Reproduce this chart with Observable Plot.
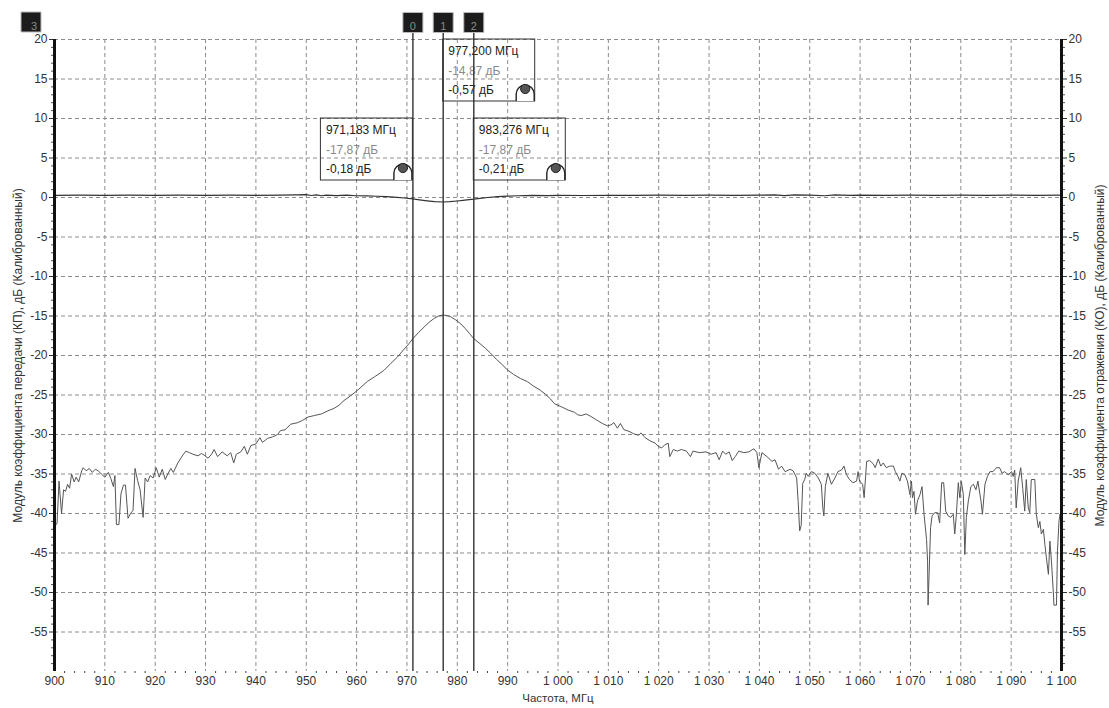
<!DOCTYPE html>
<html><head><meta charset="utf-8">
<script src="https://cdn.jsdelivr.net/npm/d3@7"></script>
<script src="https://cdn.jsdelivr.net/npm/@observablehq/plot@0.6"></script>
<style>
html,body{margin:0;padding:0;background:#fff;}
#chart svg{display:block;}
</style></head><body><div id="chart"></div>
<script>
// ---------- DATA ----------
const xDomain = [900, 1100];
const yDomain = [-60, 20];
const xTicks = [900, 910, 920, 930, 940, 950, 960, 970, 980, 990, 1000, 1010, 1020, 1030, 1040, 1050, 1060, 1070, 1080, 1090, 1100];
const yTicks = [-55, -50, -45, -40, -35, -30, -25, -20, -15, -10, -5, 0, 5, 10, 15, 20];
const xLabel = "Частота, МГц";
const yLabelLeft = "Модуль коэффициента передачи (КП), дБ (Калиброванный)";
const yLabelRight = "Модуль коэффициента отражения (КО), дБ (Калиброванный)";

// lower trace (transmission), [frequency MHz, dB]
const lowerTrace = [
[900.0,-41.5],[900.5,-41.3],[900.9,-35.9],[901.4,-40.0],[901.8,-37.0],[902.2,-37.2],[902.6,-36.3],[903.0,-36.8],[903.4,-35.0],[903.9,-36.0],
[904.3,-35.4],[904.8,-36.0],[905.4,-34.6],[905.7,-34.2],[906.3,-34.6],[906.9,-34.3],[907.5,-34.8],[908.1,-34.4],[908.7,-34.6],[909.3,-35.0],
[910.0,-35.4],[910.7,-34.8],[911.2,-35.6],[911.7,-36.6],[912.0,-35.2],[912.3,-41.4],[912.8,-41.4],[913.2,-37.5],[913.7,-36.4],[914.1,-36.4],
[914.6,-40.6],[915.1,-40.0],[915.6,-39.6],[916.0,-34.3],[916.5,-35.8],[917.0,-37.0],[917.6,-40.5],[918.0,-35.5],[918.5,-36.0],[919.0,-35.2],
[919.6,-35.5],[920.2,-34.2],[920.8,-35.4],[921.4,-34.4],[922.0,-35.7],[922.5,-35.0],[923.1,-34.3],[923.6,-34.8],[924.5,-33.6],[925.5,-32.6],
[926.1,-32.1],[926.8,-32.3],[927.5,-32.5],[928.5,-32.7],[929.2,-32.4],[929.7,-32.6],[930.5,-33.0],[931.2,-32.5],[931.7,-31.9],[932.4,-32.8],
[933.3,-32.2],[934.3,-32.7],[935.0,-32.3],[935.6,-33.6],[936.1,-32.5],[937.0,-32.2],[937.7,-31.5],[938.3,-32.5],[939.0,-31.4],[940.0,-31.2],
[940.8,-30.4],[941.3,-31.0],[942.3,-30.5],[943.3,-30.3],[944.3,-30.0],[944.9,-29.5],[945.8,-29.4],[946.9,-28.7],[948.3,-28.5],[949.3,-28.2],
[950.3,-27.8],[951.6,-27.6],[953.0,-27.4],[954.3,-27.0],[955.5,-26.7],[956.5,-26.3],[957.5,-25.7],[958.8,-25.1],[960.2,-24.4],[962.1,-23.3],
[963.8,-22.6],[965.4,-21.9],[966.8,-21.0],[968.1,-20.2],[969.3,-19.3],[970.4,-18.5],[971.183,-17.87],[972.3,-17.1],[973.4,-16.4],[974.4,-15.8],
[975.4,-15.3],[976.3,-15.0],[977.2,-14.87],[978.0,-14.95],[978.7,-15.1],[979.7,-15.5],[980.7,-16.0],[981.6,-16.6],[982.4,-17.2],[983.276,-17.87],
[984.5,-18.5],[985.6,-19.1],[986.6,-19.7],[987.8,-20.5],[989.0,-21.2],[989.9,-21.8],[991.2,-22.4],[992.5,-22.9],[993.9,-23.3],[995.2,-23.9],
[996.5,-24.4],[997.5,-24.9],[998.5,-25.5],[999.3,-26.1],[1000.7,-26.5],[1002.0,-26.9],[1003.3,-27.2],[1003.9,-27.5],[1004.6,-27.6],[1005.6,-27.4],
[1006.5,-27.7],[1007.5,-28.1],[1008.8,-28.6],[1009.8,-28.9],[1010.5,-28.8],[1011.1,-28.5],[1011.8,-29.2],[1012.4,-28.6],[1013.1,-29.4],[1014.1,-29.6],
[1015.0,-29.9],[1016.0,-30.1],[1016.5,-29.8],[1017.3,-30.4],[1018.3,-30.8],[1019.3,-31.1],[1019.9,-31.5],[1020.6,-31.7],[1021.2,-31.3],[1021.9,-31.1],
[1022.2,-32.8],[1022.9,-31.9],[1023.7,-32.1],[1024.5,-31.9],[1025.5,-32.1],[1026.3,-32.8],[1026.8,-32.1],[1028.1,-32.3],[1029.4,-32.2],[1030.4,-32.5],
[1031.4,-32.3],[1032.0,-33.2],[1032.7,-32.1],[1033.3,-32.5],[1034.0,-32.2],[1034.6,-33.3],[1035.2,-32.8],[1035.9,-32.1],[1036.9,-32.3],[1037.9,-32.2],
[1038.9,-31.8],[1039.5,-32.3],[1039.9,-34.2],[1040.5,-32.3],[1041.5,-32.8],[1042.5,-33.4],[1043.1,-33.2],[1043.8,-34.4],[1044.4,-34.0],[1045.1,-34.7],
[1046.1,-34.4],[1046.7,-34.6],[1047.4,-35.5],[1047.7,-38.5],[1048.0,-42.2],[1048.3,-41.5],[1048.6,-36.2],[1049.0,-35.7],[1049.3,-34.9],[1049.7,-35.3],
[1050.3,-34.7],[1051.0,-34.9],[1051.7,-35.5],[1052.3,-36.3],[1052.6,-39.3],[1052.8,-40.3],[1053.1,-36.6],[1053.6,-34.9],[1054.3,-36.3],[1055.0,-35.5],
[1055.6,-34.7],[1056.3,-34.5],[1056.8,-34.0],[1057.3,-35.1],[1057.9,-35.7],[1058.6,-36.1],[1059.3,-35.9],[1059.6,-34.7],[1059.9,-35.9],[1060.5,-36.3],
[1060.8,-38.0],[1061.3,-33.4],[1061.9,-33.3],[1062.6,-33.7],[1063.0,-34.2],[1063.6,-33.1],[1064.1,-34.0],[1064.6,-33.6],[1065.2,-34.2],[1065.9,-34.0],
[1066.6,-34.0],[1067.0,-34.7],[1067.5,-35.3],[1067.9,-35.9],[1068.3,-34.9],[1068.9,-35.1],[1069.4,-35.9],[1069.9,-37.6],[1070.2,-35.9],[1070.4,-38.0],
[1070.7,-37.2],[1071.0,-40.1],[1071.4,-38.4],[1071.9,-37.6],[1072.3,-36.6],[1072.7,-40.1],[1073.2,-43.3],[1073.4,-46.0],[1073.5,-51.6],[1073.7,-47.7],
[1074.0,-41.8],[1074.3,-40.3],[1074.8,-39.9],[1075.4,-39.9],[1075.8,-41.2],[1076.2,-36.1],[1076.6,-36.1],[1077.0,-39.7],[1077.5,-40.3],[1078.0,-40.5],
[1078.5,-40.1],[1078.8,-42.6],[1079.1,-40.3],[1079.5,-36.1],[1079.8,-38.0],[1080.1,-35.9],[1080.5,-37.6],[1080.8,-45.2],[1081.1,-40.5],[1081.5,-38.4],
[1082.0,-36.6],[1082.5,-36.3],[1083.0,-37.0],[1083.4,-35.9],[1084.0,-38.4],[1084.3,-40.1],[1084.8,-36.3],[1085.3,-35.3],[1085.8,-34.7],[1086.4,-34.7],
[1087.1,-34.2],[1087.7,-34.2],[1088.2,-34.9],[1088.7,-34.7],[1089.4,-35.1],[1090.1,-34.7],[1090.4,-35.3],[1090.7,-34.5],[1091.0,-39.3],[1091.4,-35.9],
[1091.9,-34.2],[1092.3,-36.8],[1092.7,-39.7],[1093.0,-35.7],[1093.4,-39.3],[1093.7,-39.9],[1094.0,-35.7],[1094.7,-35.7],[1095.0,-40.1],[1095.4,-41.8],
[1095.7,-41.0],[1096.0,-42.6],[1096.4,-42.0],[1096.7,-43.9],[1097.0,-45.6],[1097.4,-47.7],[1097.7,-43.5],[1098.0,-46.0],[1098.4,-50.2],[1098.5,-51.6],
[1099.0,-51.6],[1099.2,-44.7],[1099.5,-41.0],[1099.7,-40.1],[1100.0,-40.5]
];

// upper trace (reflection), [frequency MHz, dB]
const upperTrace = [
[900,0.28],[905,0.3],[910,0.27],[915,0.3],[920,0.28],[925,0.3],[930,0.27],[935,0.3],[940,0.28],[945,0.3],
[948,0.32],[950,0.36],[951,0.25],[952,0.34],[953,0.22],[954,0.3],[956,0.24],[958,0.3],[960,0.22],[962,0.2],
[964,0.16],[966,0.1],[968,0.02],[969.5,-0.06],[971.183,-0.18],[972.5,-0.3],[974,-0.42],[975.5,-0.52],[977.2,-0.57],[978.5,-0.52],
[980,-0.44],[981.5,-0.34],[983.276,-0.21],[984.5,-0.1],[986,0.0],[988,0.1],[990,0.18],[992,0.22],[995,0.26],[998,0.24],
[1000,0.28],[1005,0.25],[1010,0.28],[1015,0.26],[1020,0.3],[1025,0.27],[1030,0.3],[1035,0.28],[1040,0.3],[1043,0.34],
[1045,0.24],[1047,0.33],[1050,0.3],[1053,0.22],[1055,0.34],[1058,0.27],[1060,0.3],[1065,0.28],[1070,0.3],[1075,0.27],
[1080,0.3],[1085,0.28],[1090,0.3],[1095,0.28],[1100,0.3]
];

// markers
const markerLabels = ["0", "1", "2"];
const markerFreqs = [971.183, 977.2, 983.276];
const markerTrans = [-17.87, -14.87, -17.87];
const markerRefl = [-0.18, -0.57, -0.21];
const markerBoxTop = [10, 20, 10];          // dB level of the top edge of each readout box
const markerBoxSide = ["left", "right", "right"];
const extraMarkerLabels = ["3"];

// ---------- BUILD ----------
const loc = d3.formatLocale({decimal: ",", thousands: "\u00a0", grouping: [3], currency: ["", ""], minus: "-"});
const fmtInt = loc.format(",d");
const fmtY = loc.format("d");
const fmt2 = loc.format(".2f");
const fmt3 = loc.format(".3f");

const lower = lowerTrace.map(([f, v]) => ({f, v}));
const upper = upperTrace.map(([f, v]) => ({f, v}));
const markers = markerFreqs.map((f, i) => ({
  f, label: markerLabels[i], top: markerBoxTop[i], side: markerBoxSide[i],
  l1: fmt3(f) + " МГц", l2: fmt2(markerTrans[i]) + " дБ", l3: fmt2(markerRefl[i]) + " дБ"
}));
const yMinor = d3.range(yDomain[0] + 1, yDomain[1], 1).filter(v => v % 5 !== 0);
const xMinor = d3.range(xDomain[0], xDomain[1] + 1, 2).filter(v => v % 10 !== 0);

const BOX_W = 92, BOX_H = 62;
const font = "'Liberation Sans', Arial, sans-serif";
const archSymbol = {
  draw(ctx) {
    const r = 9;
    ctx.moveTo(-r, 12); ctx.lineTo(-r, 5);
    ctx.arc(0, 5, r, Math.PI, 2 * Math.PI);
    ctx.lineTo(r, 12);
  }
};

function boxMarks(side) {
  const data = markers.filter(d => d.side === side);
  const toRight = side === "right";   // box extends to the right of the marker line
  const tx = toRight ? 5 : -BOX_W + 5;
  const ix = toRight ? BOX_W - 10 : -10;
  return [
    Plot.rect(data, {x1: "f", x2: "f", y1: "top", y2: "top",
      insetLeft: toRight ? 0 : -BOX_W, insetRight: toRight ? -BOX_W : 0, insetBottom: -BOX_H,
      fill: "none", stroke: "#333", strokeWidth: 1}),
    Plot.text(data, {x: "f", y: "top", text: "l1", dx: tx, dy: 12, textAnchor: "start", fill: "#222", fontSize: 12}),
    Plot.text(data, {x: "f", y: "top", text: "l2", dx: tx, dy: 32, textAnchor: "start", fill: "#8a8a8a", fontSize: 12}),
    Plot.text(data, {x: "f", y: "top", text: "l3", dx: tx, dy: 51, textAnchor: "start", fill: "#222", fontSize: 12}),
    Plot.dot(data, {x: "f", y: "top", dx: ix, dy: BOX_H - 12.5, symbol: archSymbol, r: 5, fill: "#fff", stroke: "#222", strokeWidth: 1.4}),
    Plot.dot(data, {x: "f", y: "top", dx: ix, dy: BOX_H - 12.5, r: 4.6, fill: "#555", stroke: "#222", strokeWidth: 1})
  ];
}

const gridStyle = {stroke: "#8c8c8c", strokeOpacity: 1, strokeDasharray: "4,3", strokeWidth: 1};

const chart = Plot.plot({
  width: 1109, height: 708,
  marginTop: 39, marginBottom: 37, marginLeft: 54, marginRight: 48,
  style: {fontFamily: font, fontSize: "12px", color: "#333", background: "#fff"},
  x: {domain: xDomain, axis: null},
  y: {domain: yDomain, axis: null},
  marks: [
    Plot.gridX(xTicks.slice(1, -1), gridStyle),
    Plot.gridY(yTicks, gridStyle),
    Plot.axisX(xTicks, {anchor: "bottom", tickSize: 0, tickPadding: 5, tickFormat: fmtInt, fontSize: 12, label: null, fill: "#333"}),
    Plot.axisX(xMinor, {anchor: "bottom", tickSize: 2, tickFormat: () => "", label: null, stroke: "#444"}),
    Plot.axisY(yTicks, {anchor: "left", tickSize: 5, tickPadding: 2, tickFormat: fmtY, fontSize: 12, label: null, stroke: "#333", fill: "#333"}),
    Plot.axisY(yMinor, {anchor: "left", tickSize: 3, tickFormat: () => "", label: null, stroke: "#555"}),
    Plot.axisY(yTicks, {anchor: "right", tickSize: 5, tickPadding: 2, tickFormat: fmtY, fontSize: 12, label: null, stroke: "#333", fill: "#333"}),
    Plot.axisY(yMinor, {anchor: "right", tickSize: 3, tickFormat: () => "", label: null, stroke: "#555"}),
    Plot.text([xLabel], {frameAnchor: "bottom", dy: 30, text: d => d, fontSize: 11.5, fill: "#333"}),
    Plot.text([yLabelLeft], {frameAnchor: "left", dx: -36, rotate: -90, textAnchor: "middle", text: d => d, fontSize: 12, fill: "#333"}),
    Plot.text([yLabelRight], {frameAnchor: "right", dx: 39, rotate: -90, textAnchor: "middle", text: d => d, fontSize: 12, fill: "#333"}),
    Plot.line(lower, {x: "f", y: "v", stroke: "#555", strokeWidth: 1}),
    Plot.line(upper, {x: "f", y: "v", stroke: "#333", strokeWidth: 1.2}),
    ...boxMarks("right"),
    ...boxMarks("left"),
    Plot.ruleX(markers, {x: "f", stroke: "#333", strokeWidth: 1.4, insetTop: -7}),
    Plot.dot(markers, {x: "f", frameAnchor: "top", dy: -17, symbol: "square", r: 11.3, fill: "#1c1c1c", stroke: "#bbb", strokeWidth: 1}),
    Plot.text(markers, {x: "f", frameAnchor: "top", dy: -17, text: "label", fill: "#8a8a8a", fontSize: 11}),
    Plot.dot(extraMarkerLabels, {frameAnchor: "top-left", dx: -23.5, dy: -17.5, symbol: "square", r: 11.3, fill: "#1c1c1c", stroke: "#bbb", strokeWidth: 1}),
    Plot.text(extraMarkerLabels, {frameAnchor: "top-left", dx: -23.5, dy: -17.5, text: d => d, fill: "#8a8a8a", fontSize: 11}),
    Plot.ruleX(xDomain, {stroke: "#111", strokeWidth: 3})
  ]
});
document.getElementById("chart").appendChild(chart);
</script>
</body></html>
